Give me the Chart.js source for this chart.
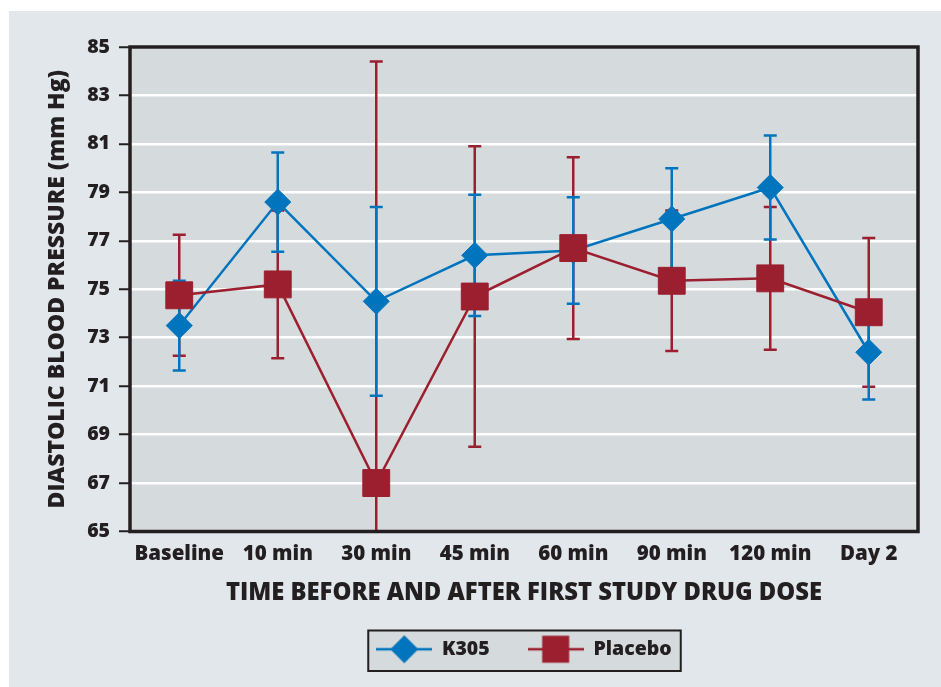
<!DOCTYPE html>
<html>
<head>
<meta charset="utf-8">
<script src="https://cdn.jsdelivr.net/npm/chart.js@4.4.1/dist/chart.umd.min.js"></script>
<style>
  html, body { margin: 0; padding: 0; background: #fff; }
  canvas { display: block; }
</style>
</head>
<body>
<canvas id="chart1" width="941" height="687"></canvas>
<script>
// data
const categories = ["Baseline", "10 min", "30 min", "45 min", "60 min", "90 min", "120 min", "Day 2"];
const k305Values = [73.5, 78.6, 74.5, 76.4, 76.6, 77.9, 79.2, 72.4];
const k305Errors = [1.85, 2.05, 3.9, 2.5, 2.2, 2.1, 2.15, 1.95];
const placeboValues = [74.75, 75.2, 67.0, 74.7, 76.7, 75.35, 75.45, 74.05];
const placeboErrors = [2.5, 3.05, 17.4, 6.2, 3.75, 2.9, 2.95, 3.07];
const yTicks = [65, 67, 69, 71, 73, 75, 77, 79, 81, 83, 85];

const BLUE = "#0075be";
const RED = "#9c1f2f";
const INK = "#231f20";
const FONT = "'Open Sans', sans-serif";
const WEIGHT = 800;

// little line + marker pictures for the legend
function legendIcon(color, shape) {
    const c = document.createElement("canvas");
    c.width = 56;
    c.height = 30;
    const g = c.getContext("2d");
    g.strokeStyle = color;
    g.lineWidth = 2.5;
    g.beginPath();
    g.moveTo(0, 15);
    g.lineTo(56, 15);
    g.stroke();
    g.fillStyle = color;
    if (shape === "diamond") {
        g.beginPath();
        g.moveTo(28, 1);
        g.lineTo(42, 15);
        g.lineTo(28, 29);
        g.lineTo(14, 15);
        g.closePath();
        g.fill();
    } else {
        g.fillRect(14.5, 1.5, 27, 27);
    }
    return c;
}

const bgPlugin = {
    id: "bgPlugin",
    beforeDraw(chart) {
        const ctx = chart.ctx;
        const a = chart.chartArea;
        ctx.save();
        ctx.fillStyle = "#fff";
        ctx.fillRect(0, 0, chart.width, chart.height);
        ctx.fillStyle = "#e2e7eb";
        ctx.fillRect(9, 11, chart.width - 9, chart.height - 11);
        ctx.fillStyle = "#d5dadd";
        ctx.fillRect(a.left, a.top, a.right - a.left, a.bottom - a.top);

        // frame round the legend
        const boxes = chart.legend.legendHitBoxes;
        if (boxes && boxes.length) {
            const l = Math.min(...boxes.map(b => b.left)) - 8;
            const r = Math.max(...boxes.map(b => b.left + b.width)) + 9;
            const t = Math.min(...boxes.map(b => b.top)) - 9;
            const btm = Math.max(...boxes.map(b => b.top + b.height)) + 12;
            ctx.fillStyle = "#d5dadd";
            ctx.fillRect(l, t, r - l, btm - t);
            ctx.strokeStyle = INK;
            ctx.lineWidth = 2;
            ctx.strokeRect(l, t, r - l, btm - t);
        }
        ctx.restore();
    }
};

const errorBarPlugin = {
    id: "errorBarPlugin",
    beforeDatasetsDraw(chart) {
        const ctx = chart.ctx;
        const a = chart.chartArea;
        const x = chart.scales.x;
        const y = chart.scales.y;
        const sets = [
            { vals: placeboValues, errs: placeboErrors, color: RED },
            { vals: k305Values, errs: k305Errors, color: BLUE }
        ];
        ctx.save();
        ctx.beginPath();
        ctx.rect(a.left, a.top, a.right - a.left, a.bottom - a.top);
        ctx.clip();
        ctx.lineWidth = 2.5;
        sets.forEach(s => {
            ctx.strokeStyle = s.color;
            s.vals.forEach((v, i) => {
                const px = x.getPixelForValue(i);
                const hi = y.getPixelForValue(v + s.errs[i]);
                const lo = y.getPixelForValue(v - s.errs[i]);
                ctx.beginPath();
                ctx.moveTo(px, hi);
                ctx.lineTo(px, lo);
                ctx.moveTo(px - 6.5, hi);
                ctx.lineTo(px + 6.5, hi);
                ctx.moveTo(px - 6.5, lo);
                ctx.lineTo(px + 6.5, lo);
                ctx.stroke();
            });
        });
        ctx.restore();
    }
};

const framePlugin = {
    id: "framePlugin",
    afterDatasetsDraw(chart) {
        const ctx = chart.ctx;
        const a = chart.chartArea;
        ctx.save();
        ctx.strokeStyle = INK;
        ctx.lineWidth = 3.5;
        ctx.strokeRect(a.left, a.top, a.right - a.left, a.bottom - a.top);
        ctx.restore();
    }
};

const icons = [legendIcon(BLUE, "diamond"), legendIcon(RED, "square")];

new Chart(document.getElementById("chart1").getContext("2d"), {
    type: "line",
    data: {
        labels: categories,
        datasets: [{
            label: "K305",
            data: k305Values,
            borderColor: BLUE,
            backgroundColor: BLUE,
            borderWidth: 2.5,
            pointStyle: "rectRot",
            pointRadius: 13,
            pointBorderWidth: 1,
            pointBorderColor: BLUE,
            pointBackgroundColor: BLUE,
            order: 1
        }, {
            label: "Placebo",
            data: placeboValues,
            borderColor: RED,
            backgroundColor: RED,
            borderWidth: 2.5,
            pointStyle: "rect",
            pointRadius: 19,
            pointBorderWidth: 1,
            pointBorderColor: RED,
            pointBackgroundColor: RED,
            order: 0
        }]
    },
    options: {
        responsive: false,
        animation: false,
        devicePixelRatio: 1,
        layout: {
            padding: { left: 0, top: 47, right: 23, bottom: 18 }
        },
        scales: {
            x: {
                offset: true,
                grid: { display: false, drawTicks: false },
                border: { display: false },
                ticks: {
                    color: INK,
                    padding: 10,
                    font: { family: FONT, size: 20.5, weight: WEIGHT }
                },
                title: {
                    display: true,
                    text: "TIME BEFORE AND AFTER FIRST STUDY DRUG DOSE",
                    color: INK,
                    font: { family: FONT, size: 23.8, weight: WEIGHT, lineHeight: 1 },
                    padding: { top: 0, bottom: -4 }
                },
                afterFit(scale) { scale.height = 70; }
            },
            y: {
                min: 65,
                max: 85,
                afterBuildTicks(scale) {
                    scale.ticks = yTicks.map(v => ({ value: v }));
                },
                grid: {
                    color: "#fff",
                    lineWidth: 2.5,
                    tickColor: INK,
                    tickLength: 11,
                    tickWidth: 2
                },
                border: { display: false },
                ticks: {
                    color: INK,
                    padding: 9,
                    font: { family: FONT, size: 19.5, weight: WEIGHT }
                },
                title: {
                    display: true,
                    text: "DIASTOLIC BLOOD PRESSURE (mm Hg)",
                    color: INK,
                    font: { family: FONT, size: 23, weight: WEIGHT, lineHeight: 1 },
                    padding: { top: 46, bottom: 0 }
                },
                afterFit(scale) { scale.width = 130; }
            }
        },
        plugins: {
            tooltip: { enabled: false },
            legend: {
                position: "bottom",
                fullSize: false,
                labels: {
                    usePointStyle: true,
                    pointStyleWidth: 56,
                    padding: 38,
                    color: INK,
                    font: { family: FONT, size: 19.5, weight: WEIGHT },
                    generateLabels(chart) {
                        return chart.data.datasets.map((ds, i) => ({
                            text: ds.label,
                            pointStyle: icons[i],
                            fillStyle: ds.borderColor,
                            strokeStyle: ds.borderColor,
                            lineWidth: 0,
                            fontColor: INK,
                            hidden: false,
                            datasetIndex: i
                        }));
                    }
                }
            }
        }
    },
    plugins: [bgPlugin, errorBarPlugin, framePlugin]
});
</script>
</body>
</html>
